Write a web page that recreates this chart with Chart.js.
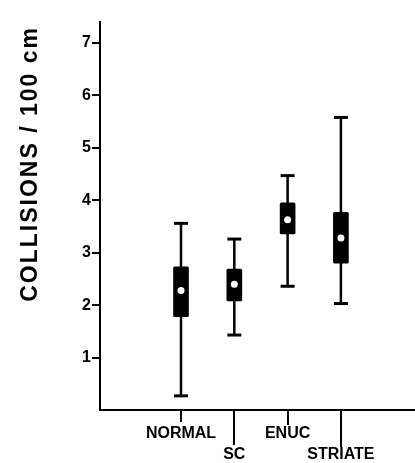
<!DOCTYPE html>
<html>
<head>
<meta charset="utf-8">
<script src="https://cdn.jsdelivr.net/npm/chart.js@4/dist/chart.umd.min.js"></script>
<style>
  body { margin: 0; background: #fff; }
  #wrap { width: 415px; height: 463px; }
</style>
</head>
<body>
<div id="wrap"><canvas id="myChart" width="415" height="463"></canvas></div>
<script>
// groups along the x axis
var categories = ['NORMAL', 'SC', 'ENUC', 'STRIATE'];
var positions = [1, 2, 3, 4];
// collisions per 100 cm
var whiskerLow = [0.27, 1.43, 2.36, 2.03];
var boxLow = [1.78, 2.08, 3.36, 2.80];
var means = [2.28, 2.40, 3.63, 3.28];
var boxHigh = [2.73, 2.69, 3.95, 3.77];
var whiskerHigh = [3.56, 3.26, 4.47, 5.58];
var yTicks = [1, 2, 3, 4, 5, 6, 7];
var yTitle = 'COLLISIONS / 100 cm';

var font = 'Liberation Sans, Arial, Helvetica, sans-serif';

var whiskerData = [];
var capData = [];
positions.forEach(function(p, i) {
    whiskerData.push({x: p, y: whiskerLow[i]}, {x: p, y: whiskerHigh[i]}, {x: p, y: null});
    capData.push({x: p, y: whiskerLow[i]}, {x: p, y: whiskerHigh[i]});
});

// x tick marks with staggered lengths + the spaced-out y title
var extras = {
    id: 'extras',
    afterDatasetsDraw: function(chart) {
        var xs = chart.scales.x;
        var lens = [12, 35, 15, 37];
        var c = chart.ctx;
        c.save();
        c.strokeStyle = '#000';
        c.lineWidth = 2;
        positions.forEach(function(p, i) {
            var px = Math.round(xs.getPixelForValue(p));
            c.beginPath();
            c.moveTo(px, xs.top);
            c.lineTo(px, xs.top + lens[i]);
            c.stroke();
        });
        c.restore();

        c.save();
        c.fillStyle = '#000';
        c.font = 'bold 23px ' + font;
        c.letterSpacing = '2px';
        c.textAlign = 'right';
        c.textBaseline = 'middle';
        c.translate(31, chart.chartArea.top + 4);
        c.rotate(-Math.PI / 2);
        c.fillText(yTitle, 0, 0);
        c.restore();
    }
};

var ctx = document.getElementById('myChart').getContext('2d');
var myChart = new Chart(ctx, {
    type: 'scatter',
    data: {
        datasets: [{
            type: 'line',
            label: 'range',
            data: whiskerData,
            borderColor: '#000',
            borderWidth: 2.5,
            pointRadius: 0,
            spanGaps: false,
            order: 4
        }, {
            type: 'bar',
            label: 'box',
            data: positions.map(function(p, i) { return {x: p, y: [boxLow[i], boxHigh[i]]}; }),
            backgroundColor: '#000',
            borderWidth: 0,
            barThickness: 15,
            borderSkipped: false,
            borderRadius: 1.5,
            order: 3
        }, {
            label: 'caps',
            data: capData,
            pointStyle: 'line',
            pointRadius: 7,
            borderColor: '#000',
            borderWidth: 3,
            order: 2
        }, {
            label: 'mean',
            data: positions.map(function(p, i) { return {x: p, y: means[i]}; }),
            pointStyle: 'circle',
            pointRadius: 3.5,
            backgroundColor: '#fff',
            borderWidth: 0,
            order: 1
        }]
    },
    options: {
        responsive: false,
        animation: false,
        layout: { autoPadding: false, padding: { left: 0, right: 0, top: 22, bottom: 0 } },
        plugins: {
            legend: { display: false },
            tooltip: { enabled: false }
        },
        scales: {
            x: {
                type: 'linear',
                offset: false,
                min: -0.52,
                max: 5.39,
                afterBuildTicks: function(s) {
                    s.ticks = positions.map(function(p) { return {value: p}; });
                },
                afterFit: function(s) {
                    s.height = 53;
                    s.paddingLeft = 0;
                    s.paddingRight = 0;
                },
                border: { display: true, color: '#000', width: 2 },
                grid: { display: false, drawTicks: false, offset: false },
                ticks: {
                    padding: 13,
                    color: '#000',
                    maxRotation: 0,
                    autoSkip: false,
                    font: { family: font, size: 16, weight: 'bold', lineHeight: 1.3 },
                    callback: function(v, i) {
                        return i % 2 === 0 ? [categories[i]] : ['', categories[i]];
                    }
                }
            },
            y: {
                min: 0,
                max: 7.4,
                afterBuildTicks: function(s) {
                    s.ticks = yTicks.map(function(v) { return {value: v}; });
                },
                afterFit: function(s) { s.width = 100; },
                border: { display: true, color: '#000', width: 2 },
                grid: { drawOnChartArea: false, drawTicks: true, tickLength: 8, color: '#000', lineWidth: 2 },
                ticks: {
                    padding: 1,
                    color: '#000',
                    font: { family: font, size: 16, weight: 'bold' }
                }
            }
        }
    },
    plugins: [extras]
});
</script>
</body>
</html>
